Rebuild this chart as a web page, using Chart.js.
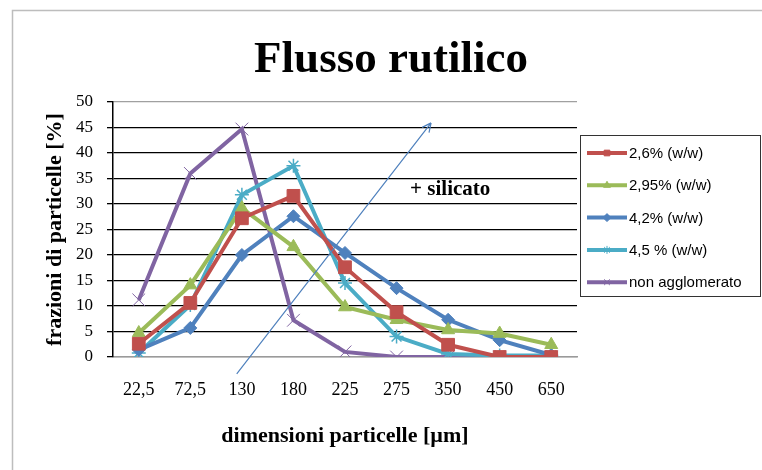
<!DOCTYPE html>
<html>
<head>
<meta charset="utf-8">
<script src="https://cdn.jsdelivr.net/npm/chart.js"></script>
<style>
  html, body { margin: 0; padding: 0; background: #fff; }
  #wrap { width: 762px; height: 470px; }
</style>
</head>
<body>
<div id="wrap"><canvas id="grafico" width="762" height="470"></canvas></div>
<script>
// --- dati ---
const categorie = ["22,5", "72,5", "130", "180", "225", "275", "350", "450", "650"];
const serie26 = [2.6, 10.6, 27.2, 31.6, 17.6, 8.8, 2.4, 0, 0];
const serie295 = [4.7, 14.1, 29.2, 21.6, 9.8, 7.3, 5.3, 4.6, 2.4];
const serie42 = [1.4, 5.7, 20, 27.6, 20.4, 13.5, 7.3, 3.3, 0.4];
const serie45 = [0.8, 10.2, 31.8, 37.5, 14.5, 4, 0.6, 0.3, 0.3];
const serieNonAggl = [11.2, 36, 44.7, 7.2, 1, 0, 0, 0, 0];
const etichette = ["2,6% (w/w)", "2,95% (w/w)", "4,2% (w/w)", "4,5 % (w/w)", "non agglomerato"];

const colori = ['#C0504D', '#9BBB59', '#4F81BD', '#4BACC6', '#8064A2'];
const serif = "'Liberation Serif', 'Times New Roman', serif";
const sans = "'Liberation Sans', Arial, sans-serif";

function serie(idx, dati, stile, raggio, bordo) {
  return {
    label: etichette[idx],
    data: dati,
    borderColor: colori[idx],
    backgroundColor: colori[idx],
    borderWidth: 4,
    pointStyle: stile,
    pointRadius: raggio,
    pointBackgroundColor: colori[idx],
    pointBorderColor: colori[idx],
    pointBorderWidth: bordo,
    tension: 0
  };
}

// titolo, legenda, freccia e testo "+ silicato"
const decorazioni = {
  id: 'decorazioni',
  afterDraw(chart) {
    const ctx = chart.ctx;
    const sx = chart.scales.x, sy = chart.scales.y;
    ctx.save();

    // cornice esterna
    ctx.strokeStyle = '#bdbdbd';
    ctx.lineWidth = 1.5;
    ctx.beginPath();
    ctx.moveTo(12.5, 470);
    ctx.lineTo(12.5, 10.5);
    ctx.lineTo(762, 10.5);
    ctx.stroke();

    // titolo
    ctx.fillStyle = '#000';
    ctx.font = "bold 45px " + serif;
    ctx.textAlign = 'center';
    ctx.textBaseline = 'middle';
    ctx.fillText("Flusso rutilico", 391, 60);

    // freccia
    const x0 = sx.getPixelForValue(1.9), y0 = sy.getPixelForValue(-3.3);
    const x1 = sx.getPixelForValue(5.67), y1 = sy.getPixelForValue(45.9);
    ctx.strokeStyle = '#4F81BD';
    ctx.lineWidth = 1.2;
    ctx.beginPath();
    ctx.moveTo(x0, y0);
    ctx.lineTo(x1, y1);
    const ang = Math.atan2(y1 - y0, x1 - x0);
    for (const d of [-0.45, 0.45]) {
      ctx.moveTo(x1, y1);
      ctx.lineTo(x1 - 10 * Math.cos(ang + d), y1 - 10 * Math.sin(ang + d));
    }
    ctx.stroke();

    // testo "+ silicato"
    ctx.fillStyle = '#000';
    ctx.font = "bold 21px " + serif;
    ctx.textAlign = 'center';
    ctx.fillText("+ silicato", sx.getPixelForValue(6.04), sy.getPixelForValue(32.9));

    // legenda
    ctx.fillStyle = '#fff';
    ctx.fillRect(580, 135, 180, 161);
    ctx.strokeStyle = '#333';
    ctx.lineWidth = 1;
    ctx.strokeRect(580.5, 135.5, 180, 161);
    ctx.font = "15px " + sans;
    ctx.textAlign = 'left';
    chart.data.datasets.forEach((ds, i) => {
      const y = 153 + i * 32.3;
      ctx.strokeStyle = ds.borderColor;
      ctx.fillStyle = ds.borderColor;
      ctx.lineWidth = 4;
      ctx.beginPath();
      ctx.moveTo(587, y);
      ctx.lineTo(627, y);
      ctx.stroke();
      ctx.lineWidth = 1;
      Chart.helpers.drawPoint(ctx, {
        pointStyle: ds.pointStyle, radius: 4, borderWidth: 1, rotation: 0
      }, 607, y);
      ctx.fillStyle = '#000';
      ctx.fillText(ds.label, 629, y + 1);
    });
    ctx.restore();
  }
};

const ctx = document.getElementById('grafico').getContext('2d');
new Chart(ctx, {
  type: 'line',
  data: {
    labels: categorie,
    datasets: [
      serie(0, serie26, 'rect', 9, 1),
      serie(1, serie295, 'triangle', 7.5, 1),
      serie(2, serie42, 'rectRot', 6.5, 1),
      serie(3, serie45, 'star', 7, 1.5),
      serie(4, serieNonAggl, 'crossRot', 9, 1)
    ]
  },
  options: {
    responsive: false,
    animation: false,
    layout: { padding: { left: 42, right: 185, top: 102, bottom: 13 } },
    plugins: {
      legend: { display: false },
      title: { display: false },
      tooltip: { enabled: false }
    },
    scales: {
      x: {
        offset: true,
        grid: { display: false, drawTicks: false },
        border: { display: true, color: '#9a9a9a', width: 1.5 },
        ticks: { color: '#000', font: { family: serif, size: 18 }, padding: 22, maxRotation: 0 },
        title: {
          display: true,
          text: 'dimensioni particelle [µm]',
          color: '#000',
          font: { family: serif, size: 22, weight: 'bold' },
          padding: { top: 0, bottom: 7 }
        },
        afterFit(scale) { scale.height = 100; }
      },
      y: {
        min: 0,
        max: 50,
        ticks: { stepSize: 5, color: '#000', font: { family: serif, size: 17 }, padding: 14 },
        grid: {
          color: (c) => (c.tick && (c.tick.value === 50 || c.tick.value === 0)) ? '#a0a0a0' : '#000',
          lineWidth: 1.3,
          tickColor: '#000',
          tickLength: 6
        },
        border: { display: true, color: '#000', width: 1.5 },
        title: {
          display: true,
          text: 'frazioni di particelle [%]',
          color: '#000',
          font: { family: serif, size: 22, weight: 'bold' },
          padding: { top: 0, bottom: 0 }
        },
        afterFit(scale) { scale.width = 71; }
      }
    }
  },
  plugins: [decorazioni]
});
</script>
</body>
</html>
